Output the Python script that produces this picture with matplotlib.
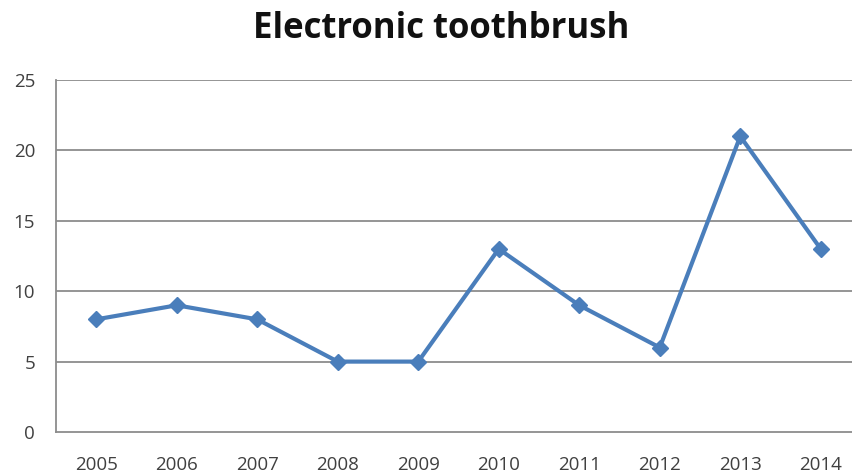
"""Electronic toothbrush: line chart by year."""

import matplotlib.pyplot as plt

years = ["2005", "2006", "2007", "2008", "2009",
         "2010", "2011", "2012", "2013", "2014"]
values = [8, 9, 8, 5, 5, 13, 9, 6, 21, 13]
y_ticks = [0, 5, 10, 15, 20, 25]

line_color = "#4A7EBB"
grid_color = "#8C8C8C"
text_color = "#404040"

fig = plt.figure(figsize=(8.52, 4.75), dpi=100)
# The plot area runs slightly past the right edge, as in the reference.
ax = fig.add_axes([56 / 852, 1 - 432 / 475, 805 / 852, 352 / 475])

x = list(range(len(years)))
ax.plot(x, values, color=line_color, linewidth=3, marker="D",
        markersize=8, zorder=3)

ax.set_xlim(-0.5, len(years) - 0.5)
ax.set_ylim(0, 25)
ax.set_yticks(y_ticks)
ax.set_xticks(x)
ax.set_xticklabels(years)

for y in y_ticks[1:]:
    ax.axhline(y, color=grid_color, linewidth=1.3, zorder=1)

for side in ("top", "right"):
    ax.spines[side].set_visible(False)
for side in ("left", "bottom"):
    ax.spines[side].set_color(grid_color)
    ax.spines[side].set_linewidth(1.3)

ax.tick_params(axis="both", length=0, labelsize=13.5, colors=text_color,
               labelfontfamily="Open Sans")
ax.tick_params(axis="y", pad=15)
ax.tick_params(axis="x", pad=17)

fig.text(0.518, 0.94, "Electronic toothbrush", ha="center", va="center",
         fontsize=25, fontweight="bold", family="Open Sans", color="#111111")

fig.savefig("out.png", dpi=100)
